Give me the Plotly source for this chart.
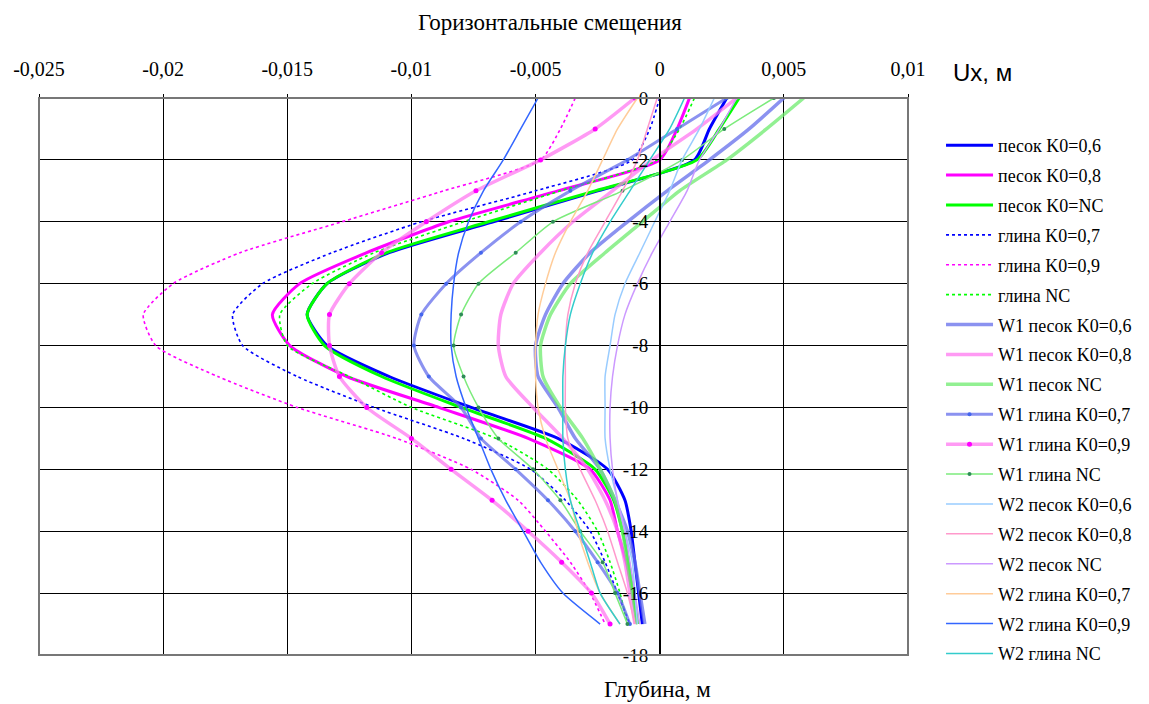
import plotly.graph_objects as go

# Depth (m)
DEPTH = [0, -1, -2, -3, -4, -5, -6, -7, -8, -9, -10, -11, -12, -13, -14, -15, -16, -17]

# Horizontal displacement Ux, in units of 0.001 m (scaled to metres below)
pesok_k06 = [2.7, 2.0, 1.4, -2.5, -6.7, -10.9, -13.4, -14.2, -13.4, -10.9, -7.6, -4.1, -2.1, -1.4, -1.15, -1.0, -0.85, -0.7]
pesok_k08 = [1.2, 0.7, 0.0, -4.1, -8.5, -11.8, -14.5, -15.6, -14.9, -12.6, -8.9, -5.3, -2.8, -2.0, -1.7, -1.35, -1.1, -0.9]
pesok_nc = [3.2, 2.4, 1.5, -2.6, -6.9, -11.0, -13.4, -14.2, -13.5, -11.2, -8.0, -4.6, -2.6, -1.85, -1.5, -1.25, -1.05, -0.9]
glina_k07 = [0.0, -0.4, -1.1, -5.0, -9.6, -13.2, -16.0, -17.2, -16.8, -14.6, -11.5, -7.9, -5.2, -3.8, -2.8, -2.2, -1.7, -1.2]
glina_k09 = [-3.4, -4.0, -4.8, -8.7, -12.8, -16.9, -19.6, -20.8, -20.3, -17.8, -14.6, -10.6, -7.6, -5.7, -4.6, -3.6, -2.8, -2.2]
glina_nc = [1.4, 0.8, -0.1, -4.0, -7.9, -11.5, -14.0, -15.3, -15.0, -12.5, -10.0, -6.6, -4.5, -3.3, -2.5, -2.0, -1.6, -1.3]
w1_pesok_k06 = [5.0, 3.6, 2.0, 0.3, -1.3, -2.8, -3.9, -4.6, -5.0, -4.9, -4.1, -3.4, -2.4, -1.8, -1.3, -1.0, -0.8, -0.6]
w1_pesok_k08 = [3.1, 1.5, -0.3, -1.9, -3.5, -4.8, -5.9, -6.4, -6.5, -6.2, -5.1, -3.9, -2.9, -2.2, -1.7, -1.4, -1.2, -1.0]
w1_pesok_nc = [5.8, 4.3, 2.7, 0.8, -0.7, -2.2, -3.6, -4.4, -4.8, -4.7, -4.0, -3.1, -2.4, -1.8, -1.5, -1.3, -1.1, -0.9]
w1_glina_k07 = [2.7, 0.7, -1.3, -3.6, -5.6, -7.2, -8.6, -9.6, -9.9, -9.3, -8.0, -7.2, -5.8, -4.5, -3.4, -2.5, -1.7, -1.2]
w1_glina_k09 = [-1.0, -2.6, -4.8, -7.4, -9.4, -11.2, -12.5, -13.3, -13.3, -12.9, -11.8, -10.0, -8.4, -6.75, -5.3, -3.95, -2.75, -2.0]
w1_glina_nc = [4.6, 2.6, 0.9, -1.5, -4.3, -5.8, -7.3, -8.0, -8.3, -7.9, -7.3, -6.5, -5.1, -4.0, -3.2, -2.3, -1.8, -1.3]
w2_pesok_k06 = [2.2, 1.6, 0.9, 0.4, -0.2, -0.8, -1.4, -1.8, -2.0, -2.2, -2.2, -2.2, -2.0, -1.7, -1.4, -1.1, -1.0, -0.9]
w2_pesok_k08 = [-0.1, -0.5, -0.9, -1.5, -2.2, -2.9, -3.4, -3.7, -3.8, -3.8, -3.8, -3.7, -3.2, -2.6, -2.1, -1.7, -1.3, -1.0]
w2_pesok_nc = [3.1, 2.4, 1.6, 1.1, 0.4, -0.3, -0.9, -1.4, -1.7, -1.9, -2.0, -2.0, -1.9, -1.7, -1.4, -1.2, -1.0, -0.8]
w2_glina_k07 = [-0.9, -1.7, -2.3, -2.9, -3.6, -4.2, -4.6, -4.9, -5.0, -5.0, -4.9, -4.6, -4.1, -3.6, -3.3, -2.9, -2.4, -1.6]
w2_glina_k09 = [-4.9, -5.6, -6.3, -7.1, -7.7, -8.1, -8.3, -8.4, -8.4, -8.2, -7.8, -7.3, -6.8, -6.2, -5.5, -4.8, -3.9, -2.4]
w2_glina_nc = [1.0, 0.4, -0.4, -1.2, -2.0, -2.7, -3.2, -3.6, -3.8, -3.9, -3.9, -3.9, -3.8, -3.6, -3.2, -2.8, -2.4, -1.6]

SERIES_NAMES = [
    "песок K0=0,6", "песок K0=0,8", "песок K0=NC",
    "глина K0=0,7", "глина K0=0,9", "глина NC",
    "W1 песок K0=0,6", "W1 песок K0=0,8", "W1 песок NC",
    "W1 глина K0=0,7", "W1 глина K0=0,9", "W1 глина NC",
    "W2 песок K0=0,6", "W2 песок K0=0,8", "W2 песок NC",
    "W2 глина K0=0,7", "W2 глина K0=0,9", "W2 глина NC",
]
SERIES_VALUES = [
    pesok_k06, pesok_k08, pesok_nc, glina_k07, glina_k09, glina_nc,
    w1_pesok_k06, w1_pesok_k08, w1_pesok_nc, w1_glina_k07, w1_glina_k09, w1_glina_nc,
    w2_pesok_k06, w2_pesok_k08, w2_pesok_nc, w2_glina_k07, w2_glina_k09, w2_glina_nc,
]

X_TICK_VALS = [-0.025, -0.02, -0.015, -0.01, -0.005, 0, 0.005, 0.01]
X_TICK_TEXT = ["-0,025", "-0,02", "-0,015", "-0,01", "-0,005", "0", "0,005", "0,01"]
Y_TICK_VALS = [0, -2, -4, -6, -8, -10, -12, -14, -16, -18]
Y_TICK_TEXT = ["0", "-2", "-4", "-6", "-8", "-10", "-12", "-14", "-16", "-18"]

# styles: (color, width, dash, marker color or None, marker size)
STYLES = [
    ("#0000FF", 3, "solid", None, 0),
    ("#FF00FF", 3, "solid", None, 0),
    ("#00FF00", 3, "solid", None, 0),
    ("#0000FF", 1.6, "dot", None, 0),
    ("#FF00FF", 1.6, "dot", None, 0),
    ("#00FF00", 1.6, "dot", None, 0),
    ("rgba(100,110,235,0.75)", 3.5, "solid", None, 0),
    ("rgba(255,120,240,0.75)", 3.5, "solid", None, 0),
    ("rgba(110,235,110,0.75)", 3.5, "solid", None, 0),
    ("rgba(100,110,235,0.75)", 3, "solid", "#4466EE", 4),
    ("rgba(255,120,240,0.75)", 3.5, "solid", "#FF00FF", 5),
    ("#7CEB7C", 1.5, "solid", "#2E8B57", 4),
    ("#99CCFF", 1.5, "solid", None, 0),
    ("#FF99CC", 1.5, "solid", None, 0),
    ("#CC99FF", 1.5, "solid", None, 0),
    ("#FFCC99", 1.5, "solid", None, 0),
    ("#3366FF", 1.5, "solid", None, 0),
    ("#33CCCC", 1.5, "solid", None, 0),
]

SERIF = "Liberation Serif"
SANS = "Liberation Sans"

fig = go.Figure()
for i, (name, vals) in enumerate(zip(SERIES_NAMES, SERIES_VALUES)):
    color, width, dash, mcolor, msize = STYLES[i]
    xs = [v / 1000.0 for v in vals]
    kw = dict(
        x=xs, y=DEPTH, name=name, legendgroup=f"g{i}",
        line=dict(color=color, width=width, dash=dash, shape="spline", smoothing=0.6),
    )
    if mcolor:
        kw["mode"] = "lines+markers"
        kw["marker"] = dict(color=mcolor, size=msize, symbol="circle")
    else:
        kw["mode"] = "lines"
    fig.add_trace(go.Scatter(**kw))

# plot area at x 39..914, y 98..655 of the 1149x704 page
fig.update_layout(
    width=1149, height=704,
    margin=dict(l=39, r=235, t=98, b=49),
    paper_bgcolor="white", plot_bgcolor="white",
    font=dict(family=SERIF, size=16, color="black"),
    showlegend=True,
    legend=dict(
        x=1.038, xanchor="left", y=0.948, yanchor="top",
        font=dict(family=SERIF, size=18, color="black"),
        traceorder="grouped", tracegroupgap=3.5, itemwidth=47,
        bgcolor="rgba(0,0,0,0)",
    ),
    xaxis=dict(
        range=[-0.025, 0.01], side="top",
        tickvals=X_TICK_VALS, ticktext=X_TICK_TEXT,
        showgrid=True, gridcolor="black", gridwidth=1,
        zeroline=False, showline=False,
        ticks="outside", ticklen=3, tickcolor="black",
        ticklabelstandoff=10,
        tickfont=dict(family=SERIF, size=20, color="black"),
    ),
    yaxis=dict(
        range=[-18, 0], anchor="free", position=0.7142857,
        tickvals=Y_TICK_VALS, ticktext=Y_TICK_TEXT,
        showgrid=True, gridcolor="black", gridwidth=1,
        zeroline=False, showline=True, linecolor="black", linewidth=1.5,
        ticks="outside", ticklen=7, tickcolor="black",
        tickfont=dict(family=SERIF, size=19, color="black"),
    ),
    shapes=[dict(type="rect", xref="paper", yref="paper", x0=0, x1=1, y0=0, y1=1,
                 line=dict(color="#777777", width=2), layer="above")],
    annotations=[
        dict(text="Горизонтальные смещения", xref="paper", yref="paper",
             x=(554 - 39) / 875, y=1 + (98 - 22) / 557, xanchor="center", yanchor="middle",
             showarrow=False, font=dict(family=SERIF, size=23, color="black")),
        dict(text="Ux, м", xref="paper", yref="paper",
             x=(957 - 39) / 875, y=1 + (98 - 73) / 557, xanchor="left", yanchor="middle",
             showarrow=False, font=dict(family=SANS, size=24, color="black")),
        dict(text="Глубина, м", xref="paper", yref="paper",
             x=(662 - 39) / 875, y=-(689 - 655) / 557, xanchor="center", yanchor="middle",
             showarrow=False, font=dict(family=SERIF, size=23, color="black")),
    ],
)

fig.write_html("out.html", config={"displayModeBar": False},
               post_script="document.body.style.margin='0';")
